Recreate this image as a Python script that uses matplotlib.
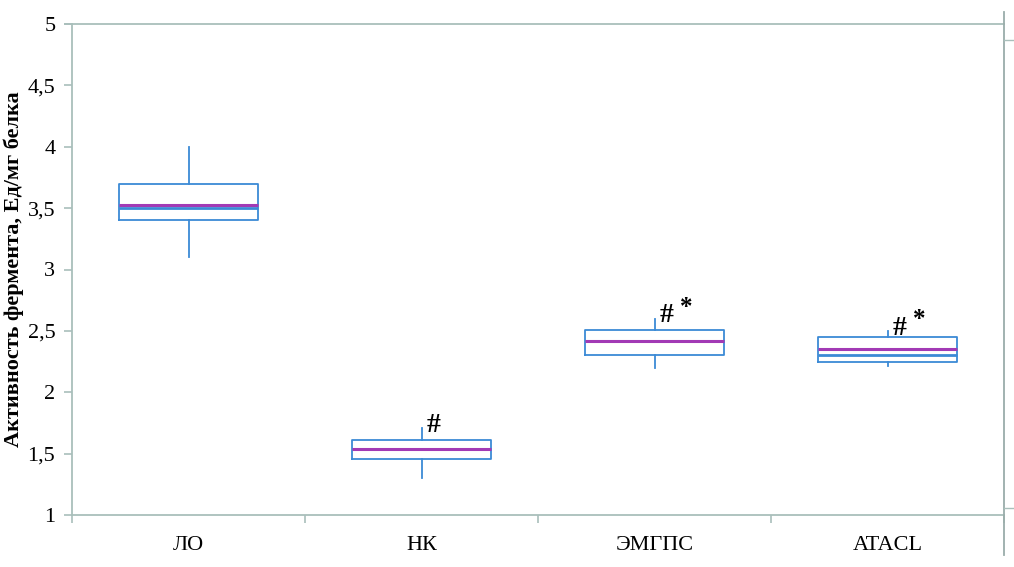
import matplotlib
matplotlib.use("Agg")
import matplotlib.pyplot as plt
from matplotlib.lines import Line2D

plt.rcParams['font.family'] = ['Liberation Serif', 'DejaVu Serif']

categories = ["ЛО", "НК", "ЭМГПС", "ATACL"]
whisker_low = [3.10, 1.30, 2.20, 2.21]
q1 = [3.40, 1.455, 2.30, 2.25]
median = [3.505, 1.535, 2.42, 2.30]
mean = [3.525, 1.535, 2.42, 2.35]
q3 = [3.70, 1.61, 2.51, 2.45]
whisker_high = [4.00, 1.71, 2.60, 2.50]
marks = ["", "#", "#", "#"]
stars = ["", "", "*", "*"]
yticks = [1, 1.5, 2, 2.5, 3, 3.5, 4, 4.5, 5]
ylabel = "Активность фермента, Ед/мг белка"

blue = "#3b8ad6"
purple = "#a23ab5"
axcol = "#a9bfbb"

fig = plt.figure(figsize=(10.14, 5.67), dpi=100)
ax = fig.add_axes([72/1014, 1-515/567, (1004-72)/1014, (515-24)/567])

stats = []
for i, c in enumerate(categories):
    stats.append(dict(label=c, whislo=whisker_low[i], q1=q1[i], med=median[i],
                      mean=mean[i], q3=q3[i], whishi=whisker_high[i], fliers=[]))
pos = [i + 0.5 for i in range(len(categories))]
ax.bxp(stats, positions=pos, widths=0.6, showcaps=False, showfliers=False,
       showmeans=True, meanline=True,
       boxprops=dict(color=blue, linewidth=1.3),
       whiskerprops=dict(color=blue, linewidth=1.3),
       medianprops=dict(color=blue, linewidth=2.0),
       meanprops=dict(color=purple, linewidth=2.2, linestyle='-'))

for i in range(len(categories)):
    if marks[i]:
        ax.text(pos[i] + 0.05, whisker_high[i] - 0.03, marks[i], ha='center', va='baseline',
                fontsize=20, fontweight='bold')
    if stars[i]:
        ax.text(pos[i] + 0.135, whisker_high[i] + 0.04, stars[i], ha='center', va='baseline',
                fontsize=18, fontweight='bold')

ax.set_xlim(0, 4)
ax.set_ylim(1, 5)
ax.set_yticks(yticks)
ax.set_yticklabels([f"{v:g}".replace('.', ',') for v in yticks], fontsize=16)
ax.set_xticks([0, 1, 2, 3, 4])
ax.set_xticklabels([])
ax.set_xticks(pos, minor=True)
ax.set_xticklabels(categories, minor=True, fontsize=16)
ax.tick_params(axis='x', which='minor', length=0, pad=15)
ax.tick_params(axis='x', which='major', length=6, color=axcol, width=1.2)
ax.tick_params(axis='y', length=6, color=axcol, width=1.2, pad=6)
ax.set_ylabel(ylabel, fontsize=16, fontweight='bold')
ax.yaxis.set_label_coords(-0.051, 0.5)

for s in ['left', 'bottom', 'top']:
    ax.spines[s].set_color(axcol)
    ax.spines[s].set_linewidth(1.3)
ax.spines['right'].set_visible(False)

# outer right frame line with small ticks
x_r = 1004/1014
fig.add_artist(Line2D([x_r, x_r], [1-12/567, 1-555/567], color="#9aadaa", lw=1.3))
for yy in [40, 508]:
    fig.add_artist(Line2D([x_r, 1018/1014], [1-yy/567, 1-yy/567], color=axcol, lw=1.0))
fig.add_artist(Line2D([65/1014, 72/1014], [1-24/567, 1-24/567], color=axcol, lw=1.3))

fig.savefig("out.png", dpi=100)
